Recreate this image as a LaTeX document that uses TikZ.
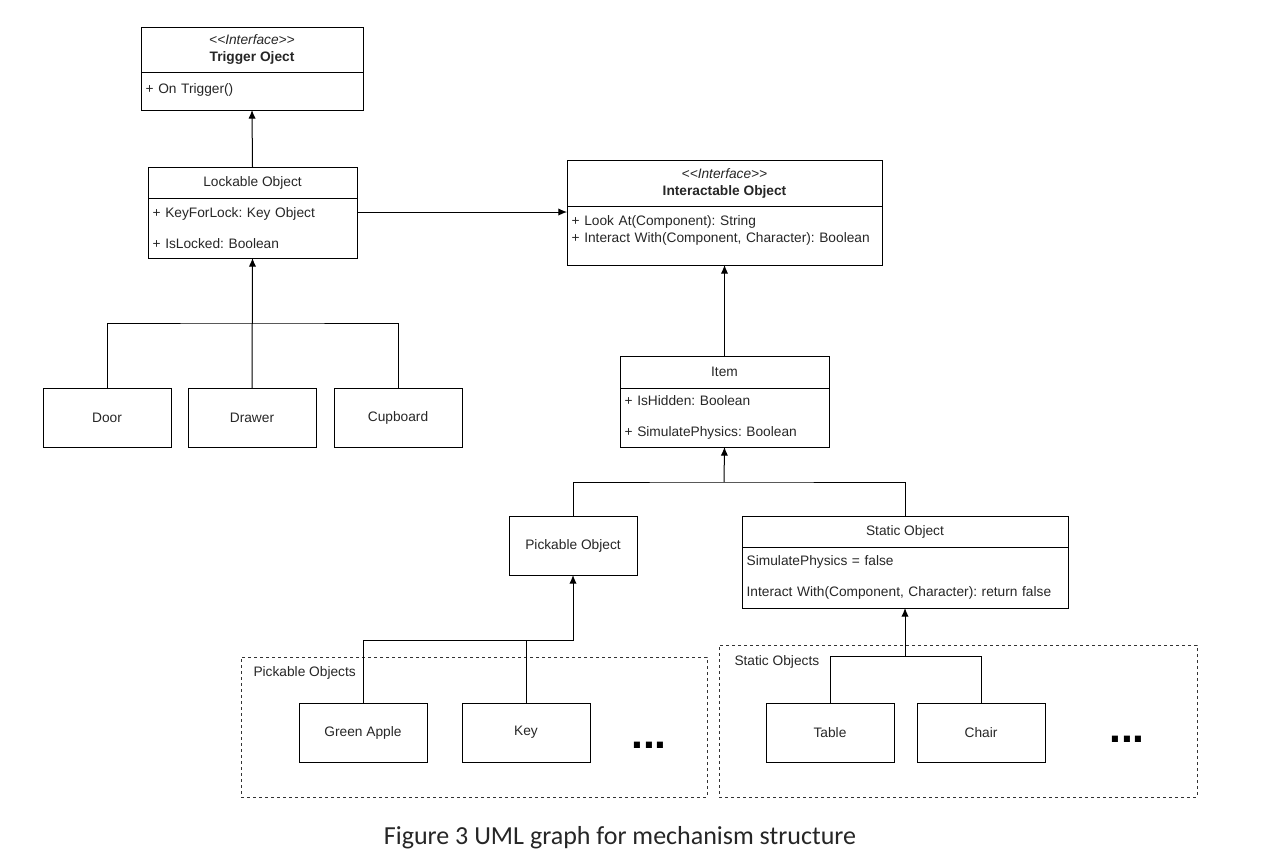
\documentclass[tikz,border=0pt]{standalone}
\usepackage{fontspec}
\setmainfont{Liberation Sans}
\newfontfamily\captionfont{Carlito}
\usetikzlibrary{shapes}
\usetikzlibrary{arrows.meta}
\usetikzlibrary{positioning}
\frenchspacing
\newcommand{\umlfont}{\fontsize{10.3}{12.75}\selectfont}
\newcommand{\interfacetag}{{\itshape <\kern0pt<Interface>\kern0pt>}}
\tikzstyle{head} = [rectangle, draw=black, inner sep=0pt, outer sep=0pt, align=center, text=black!85, font=\umlfont]
\tikzstyle{attrs} = [rectangle, draw=black, inner xsep=3.5pt, inner ysep=0pt, outer sep=0pt, align=left, text=black!85, font=\umlfont]
\tikzstyle{leaf} = [rectangle, draw=black, outer sep=0pt, minimum width=96pt, minimum height=44.25pt, text=black!85, font=\umlfont]
\tikzstyle{group} = [rectangle, draw=black!80, dash pattern=on 2.25pt off 2.25pt, inner sep=0pt, outer sep=0pt]
\tikzstyle{grouplabel} = [inner sep=0pt, anchor=west, text=black!85, font=\umlfont]
\tikzstyle{dots} = [inner sep=0pt, anchor=base, font=\fontsize{32}{32}\selectfont\bfseries]
\tikzstyle{arrow} = [-{Latex[length=6.5pt,width=5.5pt]}]

\begin{document}
\begin{tikzpicture}[x=0.75pt, y=-0.75pt, line width=0.75pt]
  \useasboundingbox (0,0) rectangle (1281,864);

  % interfaces
  \node(trigger)[head, anchor=north west, minimum width=166.5pt, minimum height=33.75pt] at (141,27) {\interfacetag\\\textbf{Trigger Oject}};
  \node(triggerattr)[attrs, below=0pt of trigger, text width=159.5pt, minimum height=28.5pt] {+ On Trigger()\\[-9.75pt]\mbox{}};
  \node(interact)[head, anchor=north west, minimum width=236.25pt, minimum height=34.5pt] at (567,160) {\interfacetag\\\textbf{Interactable Object}};
  \node(interactattr)[attrs, below=0pt of interact, text width=229.25pt, minimum height=44.25pt] {+ Look At(Component): String\\+ Interact With(Component, Character): Boolean\\[-3pt]\mbox{}};

  % lockable side
  \node(lockable)[head, anchor=north west, minimum width=156.75pt, minimum height=23.25pt] at (148,167) {Lockable Object};
  \node(lockattr)[attrs, below=0pt of lockable, text width=149.75pt, minimum height=45pt] {+ KeyForLock: Key Object\\[10pt]+ IsLocked: Boolean};
  \node(door)[leaf, anchor=north west] at (43,388) {Door};
  \node(drawer)[leaf, anchor=north west] at (188,388) {Drawer};
  \node(cupboard)[leaf, anchor=north west] at (334,388) {Cupboard};

  % item side
  \node(item)[head, anchor=north west, minimum width=156.75pt, minimum height=24pt] at (620,356) {Item};
  \node(itemattr)[attrs, below=0pt of item, text width=149.75pt, minimum height=44.25pt] {+ IsHidden: Boolean\\[10.5pt]+ SimulatePhysics: Boolean};
  \node(pickable)[leaf, anchor=north west] at (509,516) {Pickable Object};
  \node(static)[head, anchor=north west, minimum width=244.5pt, minimum height=23.25pt] at (742,516) {Static Object};
  \node(staticattr)[attrs, below=0pt of static, text width=237.5pt, minimum height=45.75pt] {SimulatePhysics = false\\[10pt]Interact With(Component, Character): return false};

  % groups
  \node(pickgroup)[group, anchor=north west, minimum width=349.5pt, minimum height=105pt] at (241,657) {};
  \node(picklabel)[grouplabel] at (253,673) {Pickable Objects};
  \node(apple)[leaf, anchor=north west] at (299,703) {Green Apple};
  \node(key)[leaf, anchor=north west] at (462,703) {Key};
  \node(pickdots)[dots] at (649,748) {...};
  \node(statgroup)[group, anchor=north west, minimum width=358.5pt, minimum height=114pt] at (719,645) {};
  \node(statlabel)[grouplabel] at (734,662) {Static Objects};
  \node(table)[leaf, anchor=north west] at (766,703) {Table};
  \node(chair)[leaf, anchor=north west] at (917,703) {Chair};
  \node(statdots)[dots] at (1127,742) {...};

  % joins
  \coordinate(lockjoin) at (252,323);
  \coordinate(itemjoin) at (724,482);
  \coordinate(pickjoin) at (573,640);
  \coordinate(statjoin) at (905,656);

  \draw[arrow] (lockable.north) -- (triggerattr.south);
  \draw[arrow] ([yshift=-10.5pt]lockattr.north east) -- ([yshift=-10.5pt]lockattr.north east -| interactattr.west);
  \draw (door.north) |- (lockjoin) -| (cupboard.north);
  \draw[arrow] (drawer.north) -- (lockattr.south);
  \draw[arrow] (item.north) -- (interactattr.south);
  \draw (pickable.north) |- (itemjoin) -| (static.north);
  \draw[arrow] (itemjoin) -- (itemattr.south);
  \draw[arrow] (apple.north) |- (pickjoin) -- (pickable.south);
  \draw (key.north) -- (key.north |- pickjoin);
  \draw (table.north) |- (statjoin) -| (chair.north);
  \draw[arrow] (statjoin) -- (staticattr.south);

  \node(caption)[text=black!85, font=\captionfont\fontsize{19.5}{22}\selectfont] at (620,838) {Figure 3 UML graph for mechanism structure};

\end{tikzpicture}
\end{document}
